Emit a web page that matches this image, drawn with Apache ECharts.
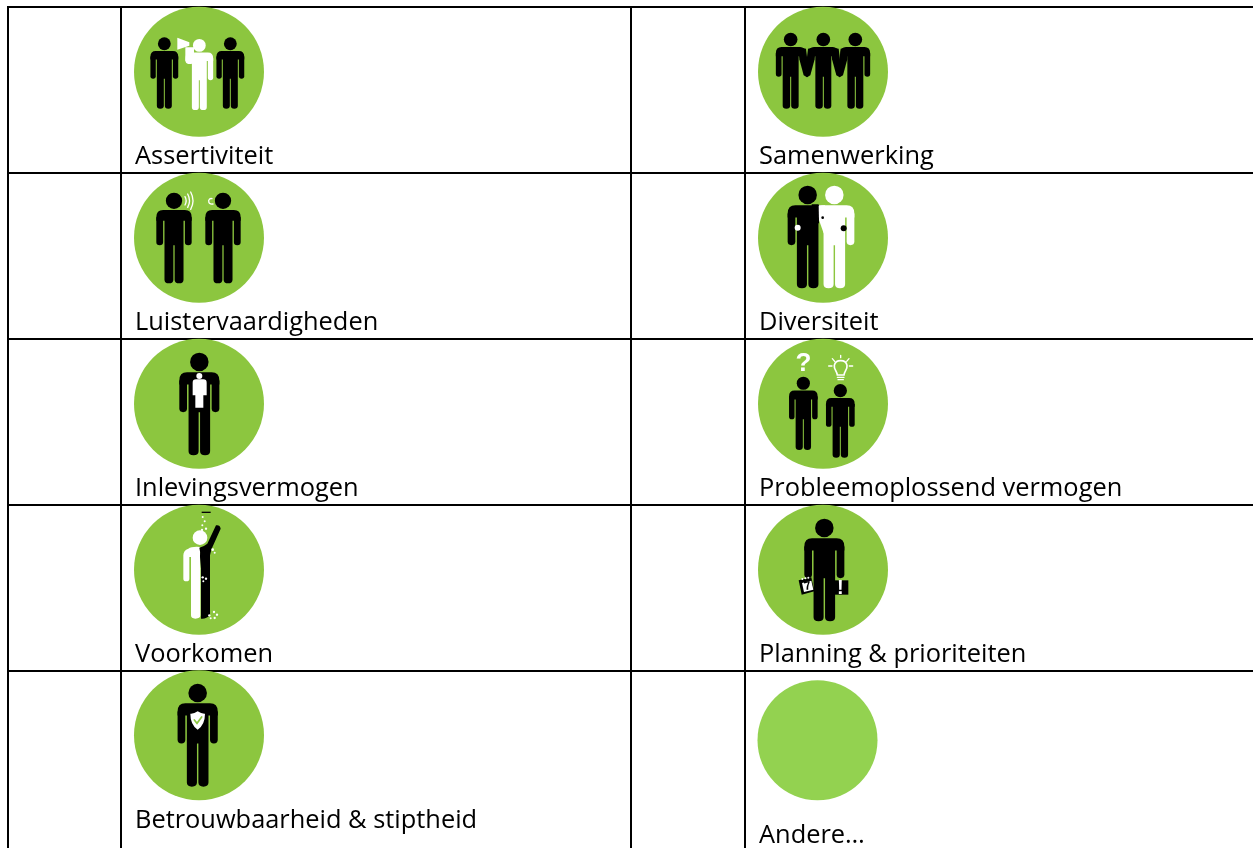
<!DOCTYPE html>
<html>
<head>
<meta charset="utf-8">
<style>html,body{margin:0;padding:0;background:#fff}#main{width:1253px;height:848px}</style>
<script src="https://cdn.jsdelivr.net/npm/echarts@6/dist/echarts.min.js"></script>
</head>
<body>
<div id="main"></div>
<script>
// table
var rowLines = [7, 173, 339, 505, 671];
var columnLines = [8, 121, 631, 745];

// labels
var skills = ['Assertiviteit', 'Samenwerking', 'Luistervaardigheden', 'Diversiteit', 'Inlevingsvermogen',
  'Probleemoplossend vermogen', 'Voorkomen', 'Planning & prioriteiten', 'Betrouwbaarheid & stiptheid', 'Andere…'];
var labelX = [135, 759, 135, 759, 135, 759, 135, 759, 135, 759];
var labelY = [157, 157, 323, 323, 489, 489, 655, 655, 821, 836];

// green circles: centre x, centre y, diameter
var discs = [
  [199, 71.7, 130], [823, 71.7, 130],
  [199, 237.7, 130], [823, 237.7, 130],
  [199, 403.7, 130], [823, 403.7, 130],
  [199, 569.7, 130], [823, 569.7, 130],
  [199, 735.2, 130], [817.5, 740.3, 120]
];
var discColors = ['#8cc63f', '#8cc63f', '#8cc63f', '#8cc63f', '#8cc63f', '#8cc63f', '#8cc63f', '#8cc63f', '#8cc63f', '#93d250'];

// where each pictogram's sketch coordinates start, sketch units are 1/3 px
var origins = [[120, 0], [745, 0], [120, 170], [745, 170], [120, 336], [745, 336], [120, 502], [745, 502], [120, 668]];

var HEAD = 'M-9 9A9 9 0 1 1 9 9A9 9 0 1 1 -9 9Z';
var BODY = 'M-12 19H12Q19.5 19 19.5 27V31H10.5V96Q10.5 100 5.6 100Q0.7 100 0.7 96V58H-0.7V96Q-0.7 100 -5.6 100Q-10.5 100 -10.5 96V31H-19.5V27Q-19.5 19 -12 19Z';
var ARM_R = 'M12 27H19.5V54.5Q19.5 58 15.75 58Q12 58 12 54.5Z';
var ARM_L = 'M-12 27H-19.5V54.5Q-19.5 58 -15.75 58Q-12 58 -12 54.5Z';

function person(cx, top, bottom, color, arms) {
  var s = (bottom - top) / 100;
  var parts = [HEAD, BODY];
  if (arms !== 'none' && arms !== 'right') parts.push(ARM_L);
  if (arms !== 'none' && arms !== 'left') parts.push(ARM_R);
  return parts.map(function (d) {
    return { d: d, x: cx, y: top, s: s, fill: color };
  });
}
function shape(d, fill) { return [{ d: d, fill: fill }]; }
function stroke(d, color, w) { return [{ d: d, stroke: color, w: w }]; }
function dot(x, y, r, fill) {
  return shape('M' + (x - r) + ' ' + y + 'A' + r + ' ' + r + ' 0 1 1 ' + (x + r) + ' ' + y + 'A' + r + ' ' + r + ' 0 1 1 ' + (x - r) + ' ' + y + 'Z', fill);
}
function glyph(t, x, y, size, fill, rot) { return [{ t: t, x: x, y: y, size: size, fill: fill, rot: rot || 0 }]; }
function hands(m) {
  return shape('M' + (m - 26) + ' 142L' + (m - 3) + ' 146L' + (m + 6) + ' 222L' + m + ' 232L' + (m - 10) + ' 226L' + (m - 23) + ' 178Z', '#000')
    .concat(shape('M' + (m + 26) + ' 142L' + (m + 3) + ' 146L' + (m - 6) + ' 222L' + m + ' 232L' + (m + 10) + ' 226L' + (m + 23) + ' 178Z', '#000'));
}

var icons = [
  // Assertiviteit
  [].concat(
    person(133, 112, 326, '#000'),
    person(331, 112, 326, '#000'),
    person(238, 117, 330, '#fff', 'right'),
    shape('M196 142H222V190H216L215 192H205Q196 190 196 180Z', '#fff'),
    shape('M172 113L208 127V137L172 149Z', '#fff')
  ),
  // Samenwerking
  [].concat(
    person(137, 98, 326, '#000', 'left'),
    person(235, 98, 326, '#000', 'none'),
    person(331, 98, 326, '#000', 'right'),
    hands(186), hands(284)
  ),
  // Luistervaardigheden
  [].concat(
    person(162, 68, 340, '#000'),
    person(309, 68, 340, '#000'),
    stroke('M195 80Q202 92 195 105', '#fff', 4),
    stroke('M203 72Q214 92 203 112', '#fff', 4),
    stroke('M212 66Q226 92 212 118', '#fff', 4),
    stroke('M279 102Q266 104 266 92Q268 84 276 86', '#fff', 4)
  ),
  // Diversiteit
  [].concat(
    person(188, 47, 355, '#000', 'left'),
    person(268, 47, 355, '#fff', 'right'),
    shape('M200 103H221L222 160H200Z', '#000'),
    shape('M222 106H240V190H236L222 150Z', '#fff'),
    dot(233, 143, 4, '#000'),
    dot(296, 175, 9, '#000'),
    dot(158, 173, 9, '#fff')
  ),
  // Inlevingsvermogen
  [].concat(
    person(238, 50, 358, '#000'),
    dot(238, 120, 9, '#fff'),
    shape('M218 140Q218 130 228 130H250Q260 130 260 140V178H250V215H226V178H218Z', '#fff')
  ),
  // Probleemoplossend vermogen
  [].concat(
    person(175, 122, 342, '#000'),
    person(286, 144, 365, '#000'),
    glyph('?', 175, 84, 26, '#fff'),
    stroke('M277 117C276 105 266 100 268 88C270 78 279 74 287 74C295 74 304 78 306 88C308 100 298 105 297 117Z', '#fff', 5),
    stroke('M277 124H297M279 131H295', '#fff', 4),
    stroke('M251 90H261M262 68L269 76M287 58V65M312 68L305 76M323 90H313', '#fff', 4)
  ),
  // Voorkomen
  [].concat(
    dot(240, 107, 22, '#fff'),
    shape('M240 135Q215 133 205 140Q190 145 190 160V230Q190 238 199 238Q208 238 208 230V165H213V340Q213 350 226 350Q241 350 241 340V135Z', '#fff'),
    shape('M243 350Q258 352 270 340V160Q272 150 275 140L302 80Q300 68 288 70L262 125Q250 135 238 137Q242 150 240 165L243 200Z', '#000'),
    shape('M245 29H272V33H245Z', '#000'),
    dot(248, 45, 3, '#fff'), dot(254, 58, 3, '#fff'), dot(247, 70, 3, '#fff'), dot(258, 80, 3.5, '#fff'), dot(246, 84, 3.5, '#fff'),
    dot(278, 143, 4, '#fff'), dot(284, 152, 3, '#fff'),
    dot(248, 226, 3.5, '#fff'), dot(258, 230, 3.5, '#fff'), dot(250, 238, 3, '#fff'),
    dot(268, 340, 3.5, '#fff'), dot(282, 330, 3.5, '#fff'), dot(291, 338, 3.5, '#fff'), dot(284, 348, 3.5, '#fff'), dot(272, 349, 3, '#fff')
  ),
  // Planning & prioriteiten
  [].concat(
    person(238, 50, 358, '#000'),
    shape('M161 235L199 226L208 268L170 278Z', '#000'),
    shape('M171 243L199 236L205 263L177 270Z', '#fff'),
    dot(172, 231, 3, '#fff'), dot(181, 229, 3, '#fff'), dot(190, 227, 3, '#fff'),
    glyph('7', 188, 253, 12, '#000', 0.2),
    shape('M267 235H310V278H267Z', '#000'),
    glyph('!', 286, 258, 20, '#fff')
  ),
  // Betrouwbaarheid & stiptheid
  [].concat(
    person(233, 47, 356, '#000'),
    shape('M233 130Q245 138 255 137Q255 170 233 185Q211 170 211 137Q222 138 233 130Z', '#fff'),
    stroke('M223 156L231 166L245 147', '#8cc63f', 5)
  )
];

var pieces = [];
icons.forEach(function (list, i) {
  list.forEach(function (p) {
    pieces.push({ origin: origins[i], item: p });
  });
});

var FONT = '"Open Sans", sans-serif';

var chart = echarts.init(document.getElementById('main'), null, { renderer: 'canvas' });
chart.setOption({
  animation: false,
  backgroundColor: '#fff',
  grid: { left: 0, right: 0, top: 0, bottom: 0 },
  xAxis: { type: 'value', min: 0, max: 1253, show: false },
  yAxis: { type: 'value', min: 0, max: 848, inverse: true, show: false },
  series: [
    { // table rules
      type: 'custom',
      coordinateSystem: 'cartesian2d',
      silent: true,
      z: 1,
      data: rowLines.map(function (y) { return [8, y, 1253, y]; })
        .concat(columnLines.map(function (x) { return [x, 6, x, 848]; })),
      encode: { x: [0, 2], y: [1, 3] },
      renderItem: function (params, api) {
        var a = api.coord([api.value(0), api.value(1)]);
        var b = api.coord([api.value(2), api.value(3)]);
        return {
          type: 'line',
          shape: { x1: a[0], y1: a[1], x2: b[0], y2: b[1] },
          style: { stroke: '#000', lineWidth: 2 }
        };
      }
    },
    { // green circles
      type: 'scatter',
      silent: true,
      z: 2,
      data: discs.map(function (d, i) {
        return { value: [d[0], d[1]], symbolSize: d[2], itemStyle: { color: discColors[i], opacity: 1 } };
      })
    },
    { // pictograms
      type: 'custom',
      coordinateSystem: 'cartesian2d',
      silent: true,
      clip: false,
      z: 5,
      data: pieces.map(function (p, i) { return [p.origin[0], p.origin[1], i]; }),
      encode: { x: 0, y: 1 },
      renderItem: function (params, api) {
        var o = api.coord([api.value(0), api.value(1)]);
        var p = pieces[api.value(2)].item;
        var k = 1 / 3;
        if (p.t) {
          return {
            type: 'text',
            x: o[0] + p.x * k,
            y: o[1] + p.y * k,
            rotation: p.rot,
            style: { text: p.t, fill: p.fill, font: 'bold ' + p.size + 'px "Liberation Sans", sans-serif', align: 'center', verticalAlign: 'middle' }
          };
        }
        var s = (p.s || 1) * k;
        return {
          type: 'path',
          x: o[0] + (p.x || 0) * k,
          y: o[1] + (p.y || 0) * k,
          scaleX: s,
          scaleY: s,
          shape: { pathData: p.d },
          style: p.stroke
            ? { fill: 'none', stroke: p.stroke, lineWidth: p.w, lineCap: 'round' }
            : { fill: p.fill }
        };
      }
    },
    { // captions
      type: 'custom',
      coordinateSystem: 'cartesian2d',
      silent: true,
      z: 6,
      data: skills.map(function (name, i) { return [labelX[i], labelY[i], i]; }),
      encode: { x: 0, y: 1 },
      renderItem: function (params, api) {
        var o = api.coord([api.value(0), api.value(1)]);
        return {
          type: 'text',
          x: o[0],
          y: o[1],
          style: { text: skills[api.value(2)], fill: '#000', font: '25.4px ' + FONT, align: 'left', verticalAlign: 'middle' }
        };
      }
    }
  ]
});
</script>
</body>
</html>
